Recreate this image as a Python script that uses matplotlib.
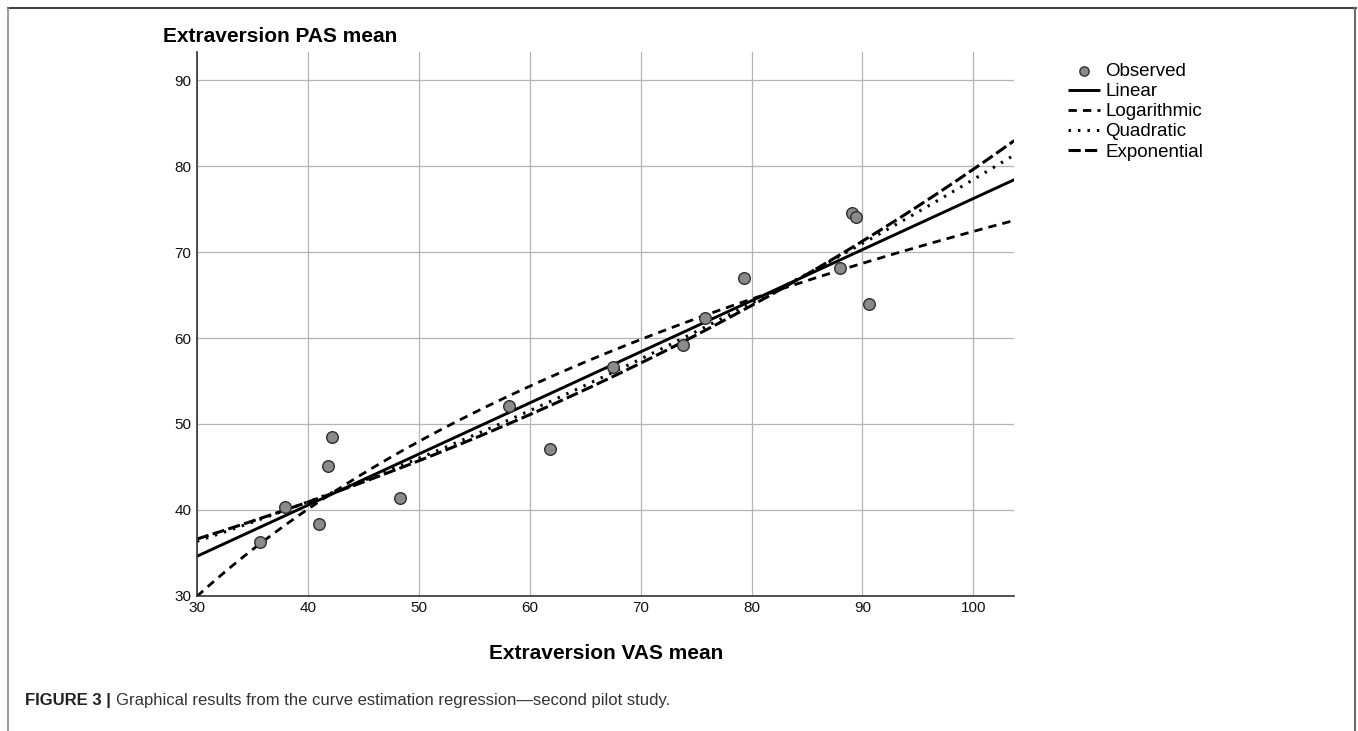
import matplotlib
matplotlib.use('Agg')
import matplotlib.pyplot as plt
from matplotlib.lines import Line2D
import numpy as np

plt.rcParams['font.family'] = ['Liberation Sans', 'DejaVu Sans']

# Observed points (Extraversion VAS mean, Extraversion PAS mean)
vas_mean = [35.7, 37.9, 41.0, 41.8, 42.2, 48.3, 58.1, 61.8,
            67.5, 73.8, 75.8, 79.3, 88.0, 89.1, 89.4, 90.6]
pas_mean = [36.2, 40.3, 38.4, 45.1, 48.5, 41.4, 52.1, 47.1,
            56.6, 59.2, 62.3, 67.0, 68.1, 74.5, 74.1, 64.0]

x_ticks = [30, 40, 50, 60, 70, 80, 90, 100]
y_ticks = [30, 40, 50, 60, 70, 80, 90]
x_range = (30, 103.7)
y_range = (30, 93.3)

x = np.array(vas_mean)
y = np.array(pas_mean)

# curve estimation fits
lin = np.polyfit(x, y, 1)
logc = np.polyfit(np.log(x), y, 1)
quad = np.polyfit(x, y, 2)
expc = np.polyfit(x, np.log(y), 1)

xs = np.linspace(x_range[0], x_range[1], 300)
y_lin = np.polyval(lin, xs)
y_log = np.polyval(logc, np.log(xs))
y_quad = np.polyval(quad, xs)
y_exp = np.exp(np.polyval(expc, xs))

fig = plt.figure(figsize=(13.58, 7.31), dpi=100)
ax = fig.add_axes([0.145, 0.185, 0.602, 0.744])

ax.grid(True, color='#b4b4b4', linewidth=0.9)
ax.set_axisbelow(True)

ax.plot(xs, y_lin, color='black', lw=2.1, solid_capstyle='butt', label='Linear')
ax.plot(xs, y_log, color='black', lw=2.0, dashes=(3.0, 2.2), label='Logarithmic')
ax.plot(xs, y_quad, color='black', lw=2.2, dashes=(0.8, 2.3), label='Quadratic')
ax.plot(xs, y_exp, color='black', lw=2.2, dashes=(4.0, 1.4), label='Exponential')
ax.scatter(x, y, s=70, color='#8a8a8a', edgecolors='#2e2e2e', linewidths=1.0,
           zorder=5, label='Observed')

ax.set_xlim(*x_range)
ax.set_ylim(*y_range)
ax.set_xticks(x_ticks)
ax.set_yticks(y_ticks)
ax.tick_params(length=0, pad=4, labelsize=11, labelcolor='#111111')
for side in ['top', 'right']:
    ax.spines[side].set_visible(False)
for side in ['left', 'bottom']:
    ax.spines[side].set_color('#333333')
    ax.spines[side].set_linewidth(1.2)

ax.set_xlabel('Extraversion VAS mean', fontsize=15, fontweight='bold', labelpad=21)
fig.text(163 / 1358, 1 - 37 / 731, 'Extraversion PAS mean', fontsize=15,
         fontweight='bold', va='center', ha='left')

# legend: Observed first
handles, labels = ax.get_legend_handles_labels()
order = [4, 0, 1, 2, 3]
ax.legend([handles[i] for i in order], [labels[i] for i in order],
          loc='upper left', bbox_to_anchor=(1068 / 1358, 1 - 63 / 731),
          bbox_transform=fig.transFigure, frameon=False, fontsize=13.5,
          borderpad=0, borderaxespad=0, labelspacing=0.16,
          handlelength=1.7, handletextpad=0.3, scatterpoints=1, markerscale=0.8)

# figure frame lines
fig.add_artist(Line2D([8 / 1358, 1356 / 1358], [1 - 8 / 731, 1 - 8 / 731],
                      transform=fig.transFigure, color='#444444', lw=1.5))
fig.add_artist(Line2D([8 / 1358, 8 / 1358], [0, 1 - 8 / 731],
                      transform=fig.transFigure, color='#8a8a8a', lw=1.2))
fig.add_artist(Line2D([1355 / 1358, 1355 / 1358], [0, 1 - 8 / 731],
                      transform=fig.transFigure, color='#6a6a6a', lw=1.5))

# caption
cap1 = fig.text(25 / 1358, 1 - 700 / 731, 'FIGURE 3 |', fontsize=12,
                fontweight='bold', va='center', ha='left', color='#222222')
renderer = fig.canvas.get_renderer()
bb = cap1.get_window_extent(renderer=renderer)
fig.text((bb.x1 + 5) / 1358, 1 - 700 / 731,
         'Graphical results from the curve estimation regression\u2014second pilot study.',
         fontsize=12, va='center', ha='left', color='#333333')

fig.savefig('out.png', dpi=100)
